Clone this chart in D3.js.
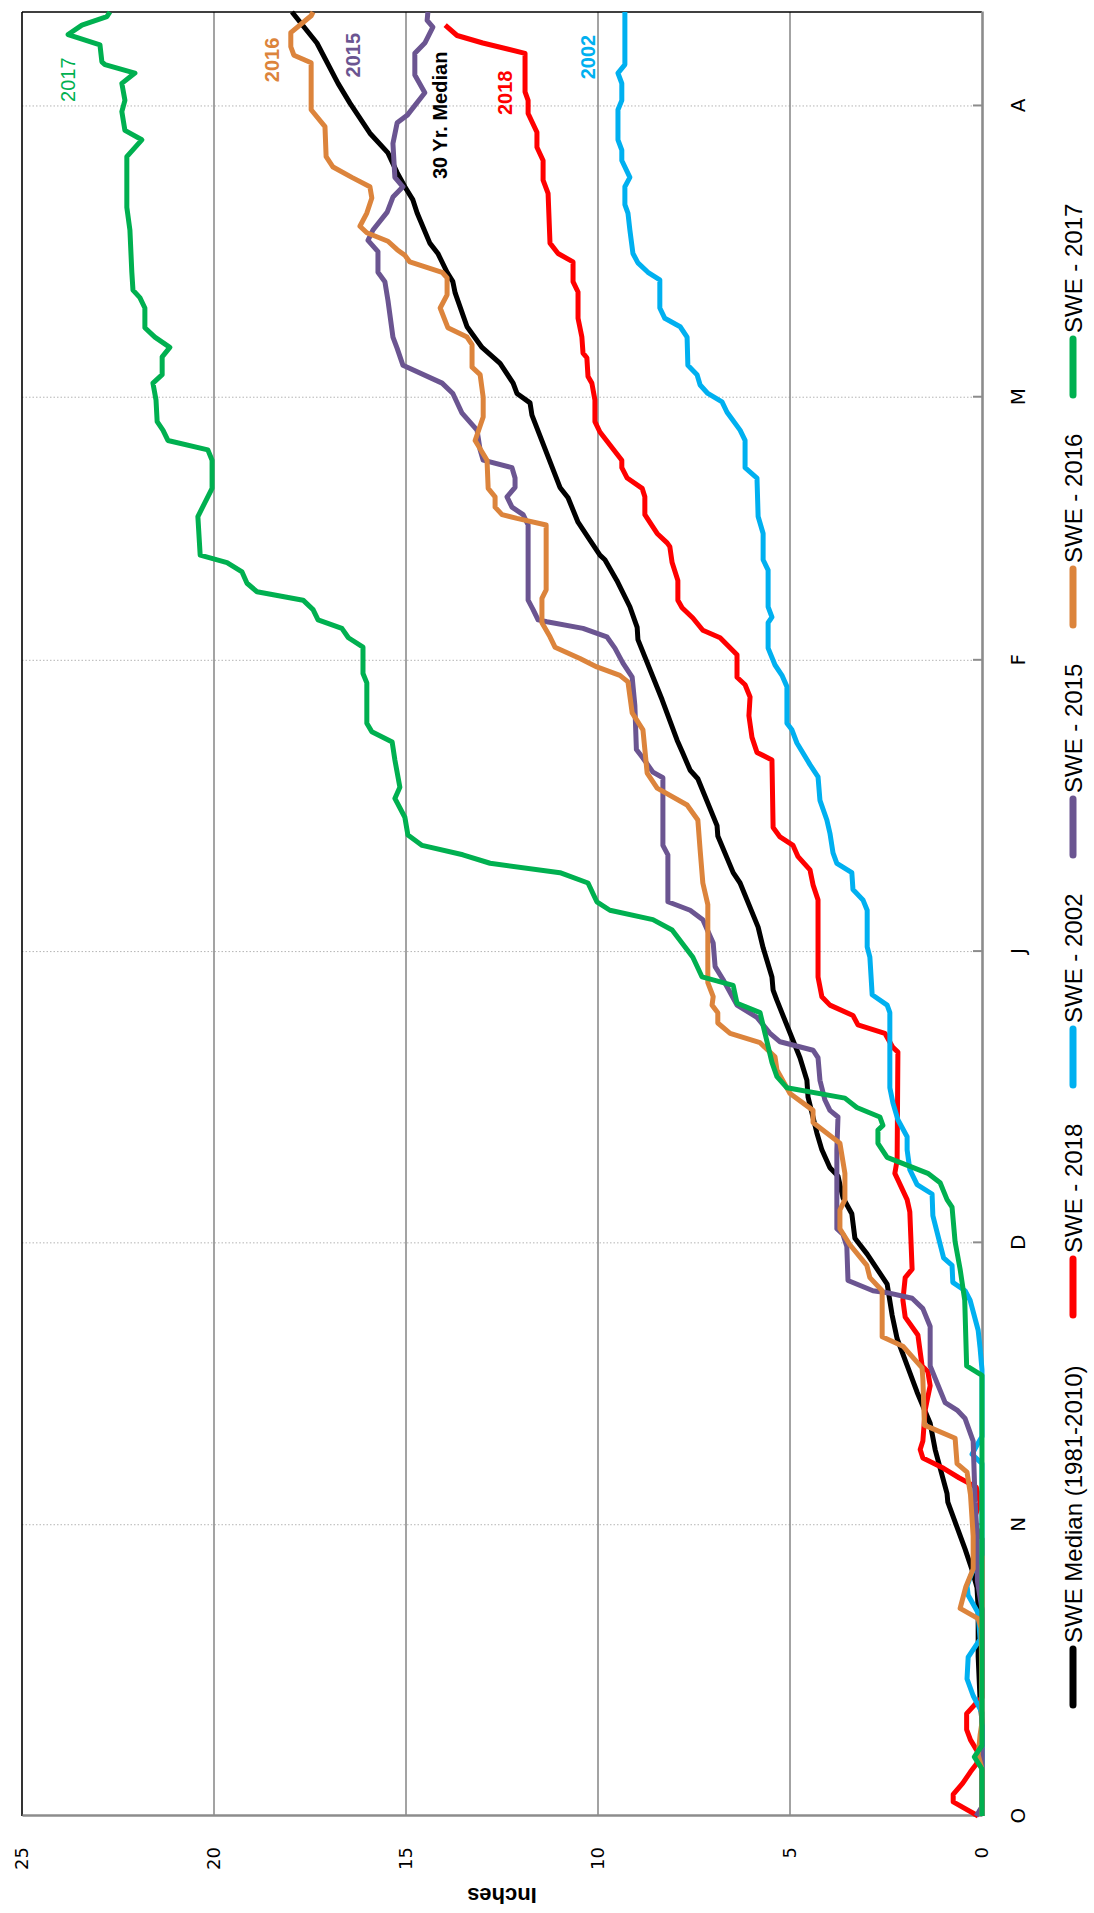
<!DOCTYPE html>
<html>
<head>
<meta charset="utf-8">
<script src="https://cdn.jsdelivr.net/npm/d3@7"></script>
<style>
  body { margin: 0; background: #fff; }
</style>
</head>
<body>
<svg id="swe-chart" width="1094" height="1913"></svg>
<script>
// x values are days since Oct 1, y values are inches of SWE
const months = ['O', 'N', 'D', 'J', 'F', 'M', 'A']
const monthDays = [0, 31, 61, 92, 123, 151, 182]
const inchTicks = [0, 5, 10, 15, 20, 25]

const median = [[0,0],[10,0],[12.3,0.05],[17,0.1],[22.1,0.1],[24.3,0.13],[26.2,0.26],[28.4,0.44],[33.4,0.89],[34.3,0.91],[39,1.22],[41.8,1.35],[45.1,1.69],[50.8,2.21],[53.3,2.34],[56.6,2.47],[59.8,2.99],[61.5,3.31],[64.1,3.39],[65.8,3.62],[68.1,3.75],[69,3.96],[70.9,4.17],[72.7,4.3],[76.5,4.53],[78.3,4.56],[80.7,4.74],[86.8,5.34],[87.9,5.44],[89.3,5.47],[92.4,5.7],[94.6,5.83],[99.3,6.3],[100.4,6.48],[104.3,6.88],[105.4,6.9],[110.4,7.4],[111.3,7.6],[113.1,7.79],[114.5,7.94],[118.8,8.33],[125.2,8.96],[126.5,8.98],[128.7,9.17],[131.5,9.51],[133.7,9.82],[134.2,9.95],[135.8,10.21],[137.7,10.52],[140.3,10.78],[141.4,10.99],[149.1,11.72],[150.4,11.77],[151.4,12.11],[152.5,12.21],[154.6,12.55],[156.3,13.02],[158.5,13.41],[162.1,13.72],[163.3,13.78],[164.3,13.93],[166.3,14.17],[167.4,14.38],[170.6,14.71],[172,14.82],[173.4,15.03],[174.9,15.23],[177,15.47],[179.1,15.94],[182.3,16.46],[184.4,16.77],[188.7,17.32],[192,17.97]]

const swe2018 = [[0,0.1],[1.5,0.75],[2.3,0.75],[3.5,0.5],[4.7,0.3],[5.5,0.15],[6.4,0.05],[8.1,0.3],[9.2,0.4],[10.9,0.4],[11.8,0.2],[12.6,0],[29.5,0],[30.7,0.15],[31.7,0.2],[33.4,0.05],[35,0.15],[36,0.6],[37,1.0],[38.1,1.54],[39,1.61],[39.9,1.54],[43.2,1.48],[45.8,1.35],[47.3,1.41],[47.9,1.56],[51.2,1.67],[53.1,2.0],[54.9,2.06],[57.3,2.0],[58.2,1.82],[64.3,1.88],[65.6,1.95],[67.7,2.19],[68.4,2.27],[69.8,2.21],[81.3,2.19],[81.8,2.32],[83.3,2.53],[84.2,3.23],[85.2,3.36],[86.3,3.96],[87.2,4.17],[89.3,4.27],[97.5,4.27],[99.1,4.4],[100.7,4.48],[102.1,4.79],[103.3,4.92],[104.2,5.26],[105.2,5.44],[112.4,5.47],[113.2,5.86],[114.8,5.99],[117.1,6.07],[119.1,6.04],[120.4,6.17],[121.2,6.38],[123.6,6.38],[125.4,6.82],[126.2,7.27],[127.5,7.53],[128.6,7.81],[129.4,7.92],[131.5,7.92],[133.4,8.07],[135.1,8.13],[135.5,8.2],[136.5,8.46],[138.5,8.78],[140.4,8.78],[141.3,8.85],[142.4,9.24],[143.5,9.38],[144.3,9.38],[147.3,9.95],[148.4,10.08],[150.7,10.08],[152.5,10.16],[153.2,10.26],[155.2,10.29],[155.7,10.39],[157.4,10.42],[159.4,10.52],[162.2,10.52],[163.3,10.65],[165.4,10.65],[166.3,11.04],[167.4,11.25],[172.7,11.3],[174.1,11.43],[176.2,11.43],[177.6,11.59],[179.2,11.59],[181.2,11.82],[182.6,11.82],[183.5,11.9],[187.6,11.9],[188.7,13.0],[189.5,13.67],[190.6,13.98]]

const swe2002 = [[0,0],[11,0],[12.8,0.23],[14.6,0.39],[16.9,0.36],[17.7,0.23],[18.8,0.05],[21.6,0.1],[23.5,0.36],[24.5,0.39],[25.9,0.26],[26.8,0.13],[27.8,0],[37.5,0],[38.5,0.26],[39.7,0.1],[40.4,0],[47.5,0],[49.8,0.05],[51.7,0.1],[54.9,0.31],[55.9,0.44],[56.8,0.76],[58.6,0.78],[59.4,1.0],[63.9,1.28],[66.2,1.3],[67.2,1.69],[68.8,1.88],[70.9,1.95],[72.3,1.95],[74.1,2.19],[75.9,2.32],[77.5,2.4],[85.5,2.4],[86.3,2.47],[87.4,2.86],[91.4,2.92],[92.5,2.99],[96.4,2.99],[97.5,3.1],[98.6,3.36],[100.4,3.39],[101.4,3.78],[102.5,3.88],[104.6,3.96],[106,4.04],[108.1,4.22],[110.6,4.27],[111.9,4.48],[114.2,4.82],[115.6,4.95],[116.3,5.08],[120.2,5.08],[121.4,5.21],[122.5,5.39],[124.3,5.57],[127,5.57],[127.6,5.47],[128.7,5.57],[132.6,5.57],[133.7,5.7],[136.5,5.7],[138.3,5.83],[142.4,5.86],[143.5,6.17],[146.4,6.17],[147.5,6.3],[149.4,6.64],[150.5,6.77],[151.4,7.14],[152.3,7.34],[153.4,7.42],[154.4,7.66],[157.4,7.68],[158.5,7.86],[159.4,8.26],[160.5,8.39],[163.5,8.39],[164.3,8.7],[165.3,8.96],[166.3,9.09],[168.8,9.17],[170.6,9.22],[171.5,9.3],[173.4,9.3],[174.4,9.17],[176.2,9.38],[177.3,9.38],[178.4,9.48],[181.6,9.48],[182.6,9.38],[184.4,9.38],[185.5,9.48],[186.4,9.3],[192,9.3]]

const swe2015 = [[0,0.15],[1,0],[22,0],[25,0.12],[30.1,0.13],[33.4,0.18],[39.9,0.23],[42.3,0.44],[43.2,0.65],[44,0.96],[47.9,1.35],[52.1,1.35],[54,1.54],[55.1,1.82],[55.7,2.47],[55.9,2.84],[57,3.49],[60.6,3.52],[61.9,3.62],[62.5,3.78],[70.9,3.78],[74.4,3.75],[75.1,3.96],[76.2,4.09],[78.3,4.22],[80.7,4.27],[81.5,4.4],[82.4,5.26],[83.3,5.52],[85,5.86],[86.3,6.38],[89,6.74],[90.4,6.95],[92.9,7.0],[95.4,7.27],[96.4,7.6],[97.3,8.18],[102.3,8.18],[103.3,8.31],[110.5,8.31],[111.1,8.57],[112.6,8.83],[113.5,9.0],[118.2,9.04],[121.2,9.11],[122.7,9.35],[124.3,9.56],[125.5,9.77],[126.4,10.39],[127.1,11.33],[127.3,11.56],[128.4,11.69],[129.4,11.82],[137.4,11.82],[138.5,11.95],[139.3,12.24],[140.4,12.37],[141.4,12.16],[142.4,12.16],[143.5,12.24],[144.3,12.99],[145.4,13.07],[147.5,13.15],[149.3,13.54],[151.4,13.78],[152.5,14.06],[154.4,15.08],[156.2,15.23],[157.4,15.34],[161.3,15.47],[163.3,15.55],[164.3,15.73],[166.5,15.73],[167.7,15.99],[168.8,15.86],[170.7,15.49],[172.3,15.34],[173.4,15.08],[174.4,15.29],[178,15.34],[180.2,15.23],[181,14.97],[183.4,14.51],[185.3,14.77],[187.6,14.77],[188.7,14.51],[190.4,14.3],[191.1,14.45],[192,14.43]]

const swe2016 = [[0,0],[5,0],[6.5,0.1],[8.6,0.05],[10,0],[20,0.02],[21,0.1],[22.1,0.57],[24.4,0.42],[26.3,0.23],[29.8,0.23],[34.2,0.3],[36.6,0.39],[37.5,0.65],[40.2,0.7],[41.6,1.5],[46.5,1.54],[47.7,1.56],[50,2.06],[51,2.6],[55.9,2.6],[57.3,2.92],[58.6,3.0],[60.8,3.44],[62.5,3.7],[64.5,3.7],[65.6,3.57],[68.4,3.57],[71.6,3.7],[73.8,4.4],[75.1,4.4],[76.9,5.0],[79.4,5.34],[80.8,5.39],[82.3,5.78],[83.3,6.56],[84.4,6.88],[85.5,6.88],[86.3,7.03],[87.2,7.0],[88.7,7.14],[97,7.14],[99.3,7.27],[102.8,7.34],[106,7.4],[107.6,7.68],[109.4,8.46],[111,8.72],[115.6,8.83],[117.4,9.11],[120.7,9.22],[121.4,9.43],[122.3,10.03],[123.2,10.47],[124.4,11.12],[125.5,11.25],[127,11.46],[129.6,11.46],[130.5,11.35],[137.4,11.35],[138.1,12.11],[138.5,12.5],[139.3,12.68],[140.4,12.68],[141.3,12.86],[144.3,12.89],[146.4,13.2],[148.9,12.99],[151,12.99],[153.4,13.07],[154.2,13.28],[156.6,13.28],[157.4,13.41],[158.4,13.91],[160.5,14.11],[161.9,13.93],[163.7,13.93],[164.3,14.06],[165.4,14.9],[166.1,15.03],[166.7,15.23],[167.6,15.47],[168.5,16.02],[169.2,16.2],[170.6,16.02],[172.2,15.89],[173.4,15.94],[174.4,16.41],[175.5,16.9],[176.6,17.08],[179.8,17.11],[181.6,17.47],[186.6,17.47],[187.4,17.92],[188.3,18.0],[189.8,18.0],[191.6,17.47],[192,17.42]]

const swe2017 = [[0,0],[5,0],[6.3,0.2],[7.5,0],[46.9,0],[47.9,0.4],[54.9,0.45],[58.2,0.57],[61.1,0.7],[64.8,0.78],[65.6,0.91],[67.4,1.09],[68.4,1.41],[70.1,2.47],[71.6,2.71],[73,2.71],[73.5,2.58],[74.4,2.66],[75.4,3.26],[76.4,3.57],[77.5,5.08],[78.7,5.34],[80.2,5.47],[85.5,5.78],[86.5,6.38],[88.4,6.48],[89.3,7.29],[91.4,7.53],[94.3,8.07],[95.4,8.57],[96.4,9.69],[97.3,10.03],[99.3,10.26],[100.4,10.99],[101.4,12.81],[102.3,13.52],[103.3,14.58],[104.4,14.95],[106.3,15.03],[108.3,15.29],[109.5,15.16],[112.4,15.29],[114.3,15.36],[115.4,15.89],[116.3,16.02],[120.6,16.02],[121.6,16.12],[124.4,16.12],[125.4,16.5],[126.4,16.67],[127.3,17.29],[128.4,17.42],[129.4,17.68],[130.3,18.88],[131.2,19.14],[132.4,19.27],[133.4,19.66],[134.2,20.36],[138.3,20.42],[141.3,20.05],[144.3,20.05],[145.4,20.16],[146.4,21.2],[147.5,21.33],[148.4,21.48],[150.7,21.51],[152.5,21.59],[153.4,21.35],[155.3,21.35],[156.3,21.15],[157.4,21.54],[158.4,21.8],[160.5,21.8],[161.6,21.93],[162.4,22.11],[164.3,22.14],[168.8,22.19],[171.2,22.27],[176.6,22.27],[178.4,21.88],[179.4,22.32],[181.4,22.4],[182.6,22.32],[184.4,22.4],[185.5,22.06],[186.4,22.84],[186.7,22.92],[188.5,22.97],[189.6,23.8],[190.6,23.44],[191.5,22.79],[192,22.71]]

const seriesNames = ['SWE Median (1981-2010)', 'SWE - 2018', 'SWE - 2002', 'SWE - 2015', 'SWE - 2016', 'SWE - 2017']
const seriesValues = [median, swe2018, swe2002, swe2015, swe2016, swe2017]
const labelTexts = ['30 Yr. Median', '2018', '2002', '2015', '2016', '2017']

function main() {
    const colors = ['#000000', '#ff0000', '#00b0f0', '#6b5591', '#dc843c', '#00b050']
    // label spots in data units (day, inches)
    const labelSpots = [[181.0, 14.11], [183.4, 12.42], [187.2, 10.26], [187.4, 16.38], [186.9, 18.49], [184.8, 23.8]]
    const labelBold = [true, true, true, true, true, false]

    let svg = d3.select('#swe-chart')
    // chart is drawn landscape then turned a quarter to the left
    let W = 1913,
        margin = {top: 22, bottom: 112, left: 97, right: 12},
        g = svg.append('g').attr('transform', 'translate(0,' + W + ') rotate(-90)')

    let x = d3.scaleLinear().domain([0, 192]).range([margin.left, W - margin.right]),
        y = d3.scaleLinear().domain([0, 25]).range([1094 - margin.bottom, margin.top])

    let plotBottom = y(0), plotTop = y(25), plotLeft = x(0), plotRight = x(192)

    // month gridlines (dotted)
    g.append('g').selectAll('line')
        .data(monthDays.slice(1))
        .enter().append('line')
        .attr('x1', d => x(d)).attr('x2', d => x(d))
        .attr('y1', plotTop).attr('y2', plotBottom - 9)
        .attr('stroke', '#b5b5b5')
        .attr('stroke-width', 1)
        .attr('stroke-dasharray', '1.5,2')

    // inch gridlines
    g.append('g').selectAll('line')
        .data(inchTicks.filter(v => v > 0 && v < 25))
        .enter().append('line')
        .attr('x1', plotLeft).attr('x2', plotRight)
        .attr('y1', d => y(d)).attr('y2', d => y(d))
        .attr('stroke', '#8c8c8c')
        .attr('stroke-width', 1.6)

    // plot frame, top and right
    g.append('line').attr('x1', plotLeft).attr('x2', plotRight).attr('y1', plotTop).attr('y2', plotTop)
        .attr('stroke', '#000').attr('stroke-width', 1.6)
    g.append('line').attr('x1', plotRight).attr('x2', plotRight).attr('y1', plotTop).attr('y2', plotBottom)
        .attr('stroke', '#000').attr('stroke-width', 1.6)

    const xAxis = g.append('g')
        .attr('transform', 'translate(0,' + plotBottom + ')')
        .call(d3.axisBottom(x).tickValues(monthDays).tickFormat((d, i) => months[i]).tickSize(-9).tickSizeOuter(0))
    xAxis.select('.domain').attr('stroke', '#8c8c8c').attr('stroke-width', 2.6)
    xAxis.selectAll('.tick line').attr('stroke', '#8c8c8c').attr('stroke-width', 2)
    xAxis.selectAll('.tick text')
        .attr('y', 36).attr('dy', '0.36em')
        .attr('fill', '#000')
        .style('font-family', 'DejaVu Sans, sans-serif')
        .style('font-size', '20px')

    const yAxis = g.append('g')
        .attr('transform', 'translate(' + plotLeft + ',0)')
        .call(d3.axisLeft(y).tickValues(inchTicks).tickSize(0).tickPadding(31).tickSizeOuter(0))
    yAxis.select('.domain').attr('stroke', '#8c8c8c').attr('stroke-width', 2.6)
    yAxis.selectAll('.tick text')
        .attr('fill', '#000')
        .style('font-family', 'DejaVu Sans, sans-serif')
        .style('font-size', '18px')

    g.append('text')
        .attr('transform', 'translate(18,' + ((plotTop + plotBottom) / 2) + ') rotate(-90)')
        .attr('text-anchor', 'middle')
        .attr('dominant-baseline', 'central')
        .style('font-family', 'Liberation Sans, Arial, sans-serif')
        .style('font-size', '22px')
        .style('font-weight', 'bold')
        .text('Inches')

    let line = d3.line()
        .x(d => x(d[0]))
        .y(d => y(d[1]))

    g.append('g').selectAll('path')
        .data(seriesValues)
        .enter().append('path')
        .attr('d', d => line(d))
        .attr('fill', 'none')
        .attr('stroke', (d, i) => colors[i])
        .attr('stroke-width', 5)
        .attr('stroke-linejoin', 'round')

    g.append('g').selectAll('text')
        .data(labelTexts)
        .enter().append('text')
        .attr('x', (d, i) => x(labelSpots[i][0]))
        .attr('y', (d, i) => y(labelSpots[i][1]))
        .attr('text-anchor', 'middle')
        .attr('dominant-baseline', 'central')
        .attr('fill', (d, i) => colors[i])
        .style('font-family', 'Liberation Sans, Arial, sans-serif')
        .style('font-size', '20px')
        .style('font-weight', (d, i) => labelBold[i] ? 'bold' : 'normal')
        .text(d => d)

    // legend along the bottom of the landscape chart
    let legendY = 1073
    let legendX = seriesNames.map((d, i) => i === 0 ? 208 : 598 + (i - 1) * 230)
    let legend = g.append('g').selectAll('g')
        .data(seriesNames)
        .enter().append('g')
        .attr('transform', (d, i) => 'translate(' + legendX[i] + ',' + legendY + ')')
    legend.append('line')
        .attr('x1', 0).attr('x2', 56)
        .attr('stroke', (d, i) => colors[i])
        .attr('stroke-width', 7)
        .attr('stroke-linecap', 'round')
    legend.append('text')
        .attr('x', 62)
        .attr('dominant-baseline', 'central')
        .style('font-family', 'Liberation Sans, Arial, sans-serif')
        .style('font-size', '24px')
        .text(d => d)
}

main()
</script>
</body>
</html>
